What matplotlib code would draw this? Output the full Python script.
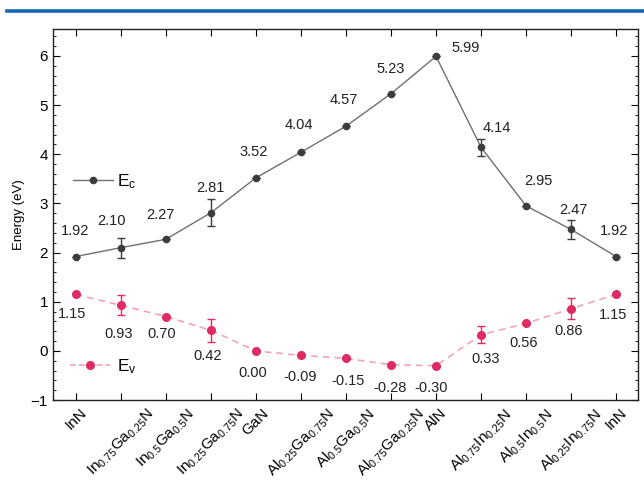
import matplotlib
matplotlib.use("Agg")
import matplotlib.pyplot as plt
from matplotlib.lines import Line2D
from matplotlib.ticker import MultipleLocator, AutoMinorLocator

plt.rcParams['font.family'] = ['Liberation Sans', 'DejaVu Sans']
plt.rcParams['mathtext.default'] = 'regular'

# compositions along the path
compounds = [r'InN', r'In$_{0.75}$Ga$_{0.25}$N', r'In$_{0.5}$Ga$_{0.5}$N', r'In$_{0.25}$Ga$_{0.75}$N',
             r'GaN', r'Al$_{0.25}$Ga$_{0.75}$N', r'Al$_{0.5}$Ga$_{0.5}$N', r'Al$_{0.75}$Ga$_{0.25}$N',
             r'AlN', r'Al$_{0.75}$In$_{0.25}$N', r'Al$_{0.5}$In$_{0.5}$N', r'Al$_{0.25}$In$_{0.75}$N', r'InN']

ec = [1.92, 2.10, 2.27, 2.81, 3.52, 4.04, 4.57, 5.23, 5.99, 4.14, 2.95, 2.47, 1.92]
ec_err = [0, 0.20, 0, 0.27, 0, 0, 0, 0, 0, 0.17, 0, 0.20, 0]
ev = [1.15, 0.93, 0.70, 0.42, 0.00, -0.09, -0.15, -0.28, -0.30, 0.33, 0.56, 0.86, 1.15]
ev_err = [0, 0.20, 0, 0.23, 0, 0, 0, 0, 0, 0.17, 0, 0.22, 0]

# label offsets in pixels (dx, dy)
ec_offsets = [(-1, 26), (-9, 27), (-5, 24), (0, 25), (-2, 26), (-2, 27), (-2, 26), (0, 25),
              (30, 8), (16, 19), (12, 25), (2, 19), (-2, 26)]
ev_offsets = [(-4, -20), (-2, -29), (-4, -17), (-3, -26), (-3, -22), (-1, -22), (2, -23), (-1, -23),
              (-5, -22), (5, -24), (-2, -20), (-2, -22), (-3, -21)]

x = list(range(len(compounds)))

fig = plt.figure(figsize=(6.44, 4.88), dpi=100)
ax = fig.add_axes([0.082, 0.180, 0.909, 0.761])

# blue rule at the top of the page
fig.add_artist(Line2D([0.011, 1.0], [1 - 11 / 488] * 2, transform=fig.transFigure,
                      color='#1767b5', lw=2.6))

ec_color = '#3c3c3c'
ev_color = '#e02a64'

ax.plot(x, ec, '-', color='#707070', lw=1.0, zorder=2)
ax.errorbar(x, ec, yerr=ec_err, fmt='o', color=ec_color, ms=4.5, capsize=3, elinewidth=1,
            capthick=1, zorder=3)
ax.plot(x, ev, '--', color='#f3a3bb', lw=1.2, dashes=(4, 3), zorder=2)
ax.errorbar(x, ev, yerr=ev_err, fmt='o', color=ev_color, ms=5.5, capsize=3, elinewidth=1,
            capthick=1, zorder=3)

for i in x:
    ax.annotate('%.2f' % ec[i], (x[i], ec[i]), xytext=ec_offsets[i], textcoords='offset pixels',
                ha='center', va='center', fontsize=10.5, color='#222222')
    ax.annotate('%.2f' % ev[i], (x[i], ev[i]), xytext=ev_offsets[i], textcoords='offset pixels',
                ha='center', va='center', fontsize=10.5, color='#222222')

ax.set_xlim(-0.51, 12.49)
ax.set_ylim(-1, 6.55)
ax.set_xticks(x)
ax.set_xticklabels(compounds, rotation=45, ha='center', fontsize=10.5)
ax.yaxis.set_major_locator(MultipleLocator(1))
ax.yaxis.set_minor_locator(AutoMinorLocator(5))
ax.tick_params(axis='both', which='both', direction='in', top=True, right=True, labelsize=11)
ax.tick_params(axis='x', which='major', length=5, pad=4)
ax.tick_params(axis='y', which='major', length=5)
ax.tick_params(axis='y', which='minor', length=2.5)
ax.set_ylabel('Energy (eV)', fontsize=9.5, labelpad=4)
for s in ax.spines.values():
    s.set_linewidth(1.0)
    s.set_color('#222222')

# two separate legend entries
h_ec = Line2D([], [], color='#707070', lw=1, marker='o', mfc=ec_color, mec=ec_color, ms=4.5)
h_ev = Line2D([], [], color='#f3a3bb', lw=1.2, ls='--', marker='o', mfc=ev_color, mec=ev_color, ms=5.5)
leg1 = ax.legend([h_ec], [r'E$_c$'], loc='center left', bbox_to_anchor=(0.035, 0.588),
                 frameon=False, fontsize=12.5, handlelength=2.3, handletextpad=0.2,
                 borderpad=0, borderaxespad=0)
ax.add_artist(leg1)
ax.legend([h_ev], [r'E$_v$'], loc='center left', bbox_to_anchor=(0.03, 0.09),
          frameon=False, fontsize=12.5, handlelength=2.3, handletextpad=0.4,
          borderpad=0, borderaxespad=0)

fig.savefig('out.png', dpi=100)
